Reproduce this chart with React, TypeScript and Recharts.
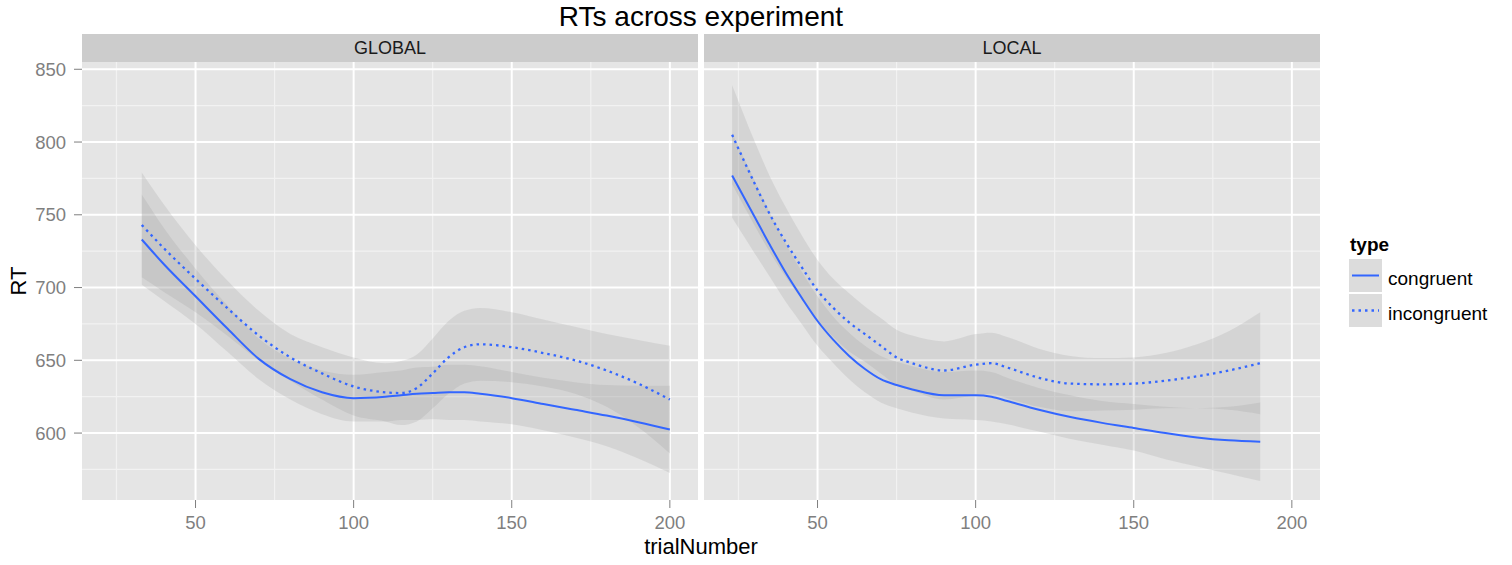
import React from "react";
import {
  ComposedChart,
  Area,
  Line,
  XAxis,
  YAxis,
  CartesianGrid,
} from "recharts";

// GLOBAL facet (trialNumber grid, loess fit and ribbon bounds)
const globalX = [33, 40, 50, 60, 70, 80, 90, 100, 110, 115, 120, 125, 130, 135, 140, 150, 160, 170, 180, 190, 200];
const globalCongFit = [733, 716, 694, 672, 651, 637, 628, 624, 625, 626, 627, 627.5, 628, 628, 627, 624, 620, 616, 612, 607.5, 602.5];
const globalCongLow = [702, 691, 675, 656, 637, 623, 613, 608, 608, 609, 609, 609.5, 609, 609, 608, 606, 602, 597, 591, 582.5, 572.5];
const globalCongHigh = [764, 741, 713, 688, 665, 651, 643, 640, 642, 643, 645, 645.5, 647, 647, 646, 642, 638, 635, 633, 632.5, 632.5];
const globalIncFit = [743, 727, 706, 686, 667, 652, 641, 632, 628, 627.5, 631, 641, 652, 659, 661, 659, 655, 650, 643, 634, 623];
const globalIncLow = [707, 697, 683, 667, 650, 636, 623, 612, 608, 605.5, 608, 617, 627, 634, 636, 635, 632, 627, 618, 604, 586];
const globalIncHigh = [779, 757, 729, 705, 684, 668, 659, 652, 648, 649.5, 654, 665, 677, 684, 686, 683, 678, 673, 668, 664, 660];

// LOCAL facet
const localX = [23, 30, 35, 40, 45, 50, 55, 60, 65, 70, 75, 80, 90, 100, 105, 110, 120, 130, 140, 150, 160, 170, 180, 190];
const localCongFit = [777, 749, 729, 710, 693, 677, 664, 653, 644, 637, 633, 630, 626, 626, 625, 622, 616, 611, 607, 603.5, 600, 597, 595, 594];
const localCongLow = [748, 724, 707, 690, 675, 660, 648, 637, 628, 621, 617, 614, 610, 609, 608, 606, 601, 596, 592, 588, 582, 577, 572, 567];
const localCongHigh = [806, 774, 751, 730, 711, 694, 680, 669, 660, 653, 649, 646, 642, 643, 642, 638, 631, 626, 622, 620, 618, 617, 618, 621];
const localIncFit = [805, 772, 750, 731, 714, 698, 686, 676, 668, 660, 652, 648, 643, 647, 648, 645, 638, 634, 633.5, 634, 636, 639, 643, 648];
const localIncLow = [771, 743, 724, 707, 692, 677, 666, 656, 649, 641, 633, 629, 623, 626, 627, 624, 618, 615, 615.5, 616, 617, 617, 616, 613];
const localIncHigh = [839, 801, 776, 755, 736, 719, 706, 696, 687, 679, 671, 667, 663, 668, 669, 666, 658, 653, 651.5, 652, 655, 661, 670, 683];

const xTicks = [50, 100, 150, 200];
const xMinor = [25, 75, 125, 175];
const yTicks = [600, 650, 700, 750, 800, 850];
const yMinor = [575, 625, 675, 725, 775, 825];

const BLUE = "#3366FF";
const TICK_GREY = "#7F7F7F";
const DOTS = "2.5 4";

function buildRows(xs, cFit, cLo, cHi, iFit, iLo, iHi) {
  return xs.map((x, i) => ({
    x,
    cFit: cFit[i],
    cBand: [cLo[i], cHi[i]],
    iFit: iFit[i],
    iBand: [iLo[i], iHi[i]],
  }));
}

const globalData = buildRows(globalX, globalCongFit, globalCongLow, globalCongHigh, globalIncFit, globalIncLow, globalIncHigh);
const localData = buildRows(localX, localCongFit, localCongLow, localCongHigh, localIncFit, localIncLow, localIncHigh);

function Panel({ data, left, width, showY }) {
  return (
    <div style={{ position: "absolute", left, top: 0 }}>
      <ComposedChart
        width={width}
        height={565}
        data={data}
        margin={{ top: 62, right: 2, bottom: 35, left: 0 }}
      >
        <CartesianGrid
          fill="#E5E5E5"
          stroke="#F2F2F2"
          strokeWidth={1.2}
          horizontalValues={yMinor}
          verticalValues={xMinor}
        />
        <CartesianGrid
          stroke="#FFFFFF"
          strokeWidth={2}
          horizontalValues={yTicks}
          verticalValues={xTicks}
        />
        <XAxis
          dataKey="x"
          type="number"
          domain={[14.1, 208.9]}
          ticks={xTicks}
          height={30}
          axisLine={false}
          tickLine={{ stroke: TICK_GREY }}
          tickSize={8}
          tickMargin={8}
          tick={{ fill: TICK_GREY, fontSize: 18.5 }}
        />
        <YAxis
          type="number"
          domain={[554, 855]}
          ticks={yTicks}
          width={82}
          hide={!showY}
          axisLine={false}
          tickLine={{ stroke: TICK_GREY }}
          tickSize={8}
          tickMargin={8}
          tick={{ fill: TICK_GREY, fontSize: 18.5 }}
        />
        <Area
          type="monotone"
          dataKey="cBand"
          stroke="none"
          fill="#999999"
          fillOpacity={0.21}
          isAnimationActive={false}
        />
        <Area
          type="monotone"
          dataKey="iBand"
          stroke="none"
          fill="#999999"
          fillOpacity={0.21}
          isAnimationActive={false}
        />
        <Line
          type="monotone"
          dataKey="cFit"
          stroke={BLUE}
          strokeWidth={2}
          dot={false}
          isAnimationActive={false}
        />
        <Line
          type="monotone"
          dataKey="iFit"
          stroke={BLUE}
          strokeWidth={2.3}
          strokeDasharray={DOTS}
          dot={false}
          isAnimationActive={false}
        />
      </ComposedChart>
    </div>
  );
}

function Strip({ left, width, label }) {
  return (
    <div
      style={{
        position: "absolute",
        left,
        top: 34,
        width,
        height: 28,
        background: "#CCCCCC",
        color: "#1A1A1A",
        fontSize: 18,
        lineHeight: "28px",
        textAlign: "center",
      }}
    >
      {label}
    </div>
  );
}

function LegendKey({ top, dashed }) {
  return (
    <svg
      width={33}
      height={33}
      style={{ position: "absolute", left: 1349, top }}
    >
      <rect x={0} y={0} width={33} height={33} fill="#DCDCDC" />
      <line
        x1={3}
        x2={30}
        y1={16.5}
        y2={16.5}
        stroke={BLUE}
        strokeWidth={dashed ? 2.3 : 2}
        strokeDasharray={dashed ? DOTS : undefined}
      />
    </svg>
  );
}

export default function App() {
  return (
    <div
      style={{
        position: "absolute",
        left: 0,
        top: 0,
        width: 1512,
        height: 565,
        background: "#FFFFFF",
        fontFamily: "'Liberation Sans', Arial, sans-serif",
        overflow: "hidden",
      }}
    >
      <div
        style={{
          position: "absolute",
          left: 0,
          top: 3,
          width: 1402,
          textAlign: "center",
          fontSize: 28,
          lineHeight: "28px",
          color: "#000",
        }}
      >
        RTs across experiment
      </div>

      <Panel data={globalData} left={0} width={700} showY />
      <Panel data={localData} left={704} width={618} showY={false} />

      <Strip left={82} width={616} label="GLOBAL" />
      <Strip left={704} width={616} label="LOCAL" />

      <div
        style={{
          position: "absolute",
          left: 0,
          top: 536,
          width: 1402,
          textAlign: "center",
          fontSize: 22,
          lineHeight: "22px",
          color: "#000",
        }}
      >
        trialNumber
      </div>
      <div
        style={{
          position: "absolute",
          left: -31.5,
          top: 270,
          width: 100,
          textAlign: "center",
          fontSize: 22,
          lineHeight: "22px",
          color: "#000",
          transform: "rotate(-90deg)",
        }}
      >
        RT
      </div>

      <div
        style={{
          position: "absolute",
          left: 1350,
          top: 235,
          fontSize: 19,
          lineHeight: "19px",
          fontWeight: "bold",
          color: "#000",
        }}
      >
        type
      </div>
      <LegendKey top={259} dashed={false} />
      <LegendKey top={294} dashed />
      <div
        style={{
          position: "absolute",
          left: 1388,
          top: 269,
          fontSize: 19,
          lineHeight: "19px",
          color: "#000",
        }}
      >
        congruent
      </div>
      <div
        style={{
          position: "absolute",
          left: 1388,
          top: 304,
          fontSize: 19,
          lineHeight: "19px",
          color: "#000",
        }}
      >
        incongruent
      </div>
    </div>
  );
}
